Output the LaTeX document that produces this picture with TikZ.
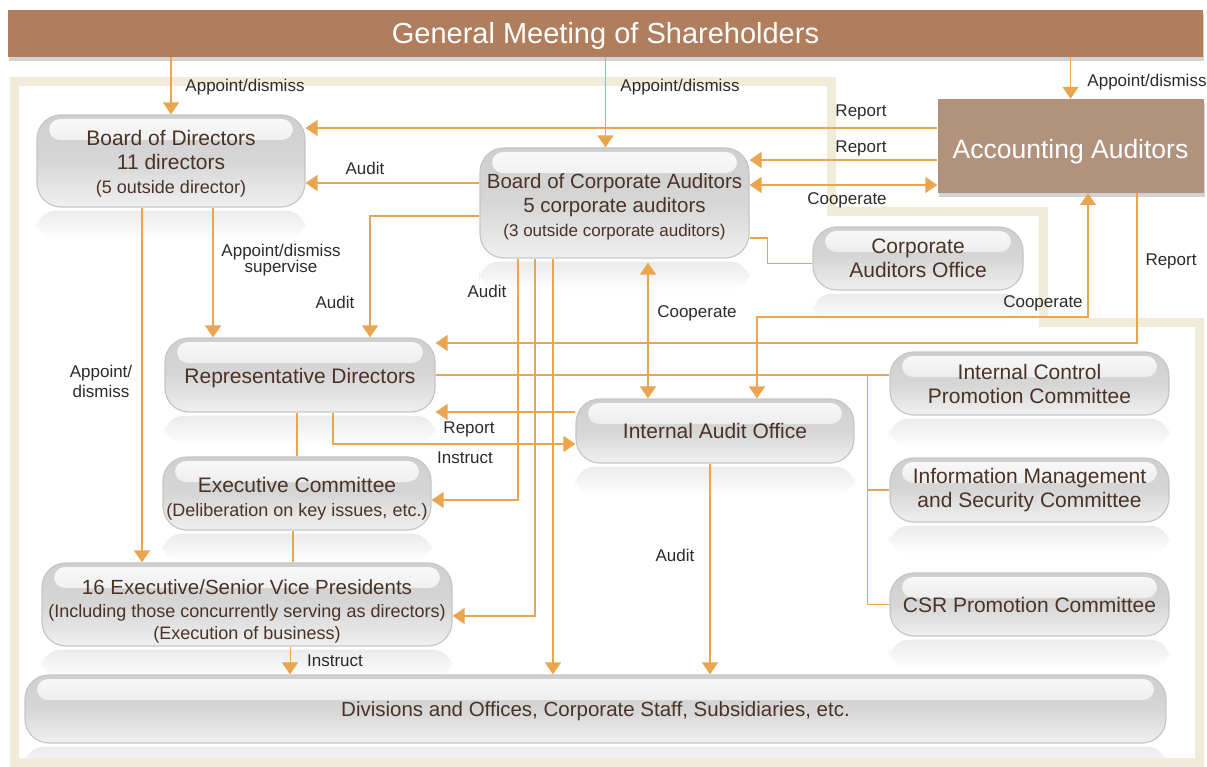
\documentclass[tikz,border=0pt]{standalone}
\usepackage{fontspec}
\setmainfont{Liberation Sans}
\usetikzlibrary{arrows.meta,shadows}
\pgfdeclarelayer{bg}
\pgfsetlayers{bg,main}
\definecolor{gmbrown}{HTML}{B07D5D}
\definecolor{accbrown}{HTML}{B1937D}
\definecolor{linkorange}{HTML}{E9A54F}
\definecolor{framebeige}{HTML}{F0ECD9}
\definecolor{boxtext}{HTML}{4A3326}
\definecolor{tagtext}{HTML}{2B2B2B}
\tikzset{
unit/.style={
	draw=gray!45, line width=1.2pt, rounded corners=24pt,
	top color=gray!38, bottom color=gray!12, middle color=gray!32,
	text=boxtext, align=center, inner sep=0pt,
	font=\fontsize{21}{24}\selectfont,
	path picture={\shade[top color=white!96!gray, bottom color=gray!30, rounded corners=11pt]
		([xshift=12pt,yshift=-4pt]path picture bounding box.north west) rectangle
		([xshift=-12pt,yshift=-25pt]path picture bounding box.north east);}},
brownbox/.style={
	fill=#1, text=white, inner sep=0pt,
	drop shadow={shadow xshift=1pt, shadow yshift=-4pt, opacity=0.35}},
textdrop/.style={execute at begin node={\rule{0pt}{#1}}},
tag/.style={text=tagtext, inner sep=0pt, align=center, font=\fontsize{17}{19}\selectfont},
link/.style={draw=linkorange, line width=1.5pt},
flow/.style={link, -{Triangle[width=16pt,length=12pt]}},
mutual/.style={link, {Triangle[width=16pt,length=12pt]}-{Triangle[width=16pt,length=12pt]}}
}
\newcommand{\subline}[1]{{\fontsize{18}{24}\selectfont #1}}
\newcommand{\lift}[1]{\rule{0pt}{#1}}

\begin{document}
\begin{tikzpicture}[x=1pt, y=-1pt]
	\useasboundingbox (0,0) rectangle (1207,767);
	% beige frame round the company
	\draw[framebeige, line width=9pt] (14,82) -- (831,82) -- (831,212) -- (1043,212)
		-- (1043,322) -- (1199,322) -- (1199,762) -- (14,762) -- cycle;

	\node[brownbox=gmbrown, textdrop=27pt, minimum width=1195pt, minimum height=47pt,
		font=\fontsize{29}{32}\selectfont] (gm) at (605.5,33.5) {General Meeting of Shareholders};
	\node[brownbox=accbrown, textdrop=31.5pt, minimum width=266pt, minimum height=94pt,
		font=\fontsize{26.5}{30}\selectfont] (acc) at (1070.5,146) {Accounting Auditors};

	\node[unit, minimum width=268pt, minimum height=92pt] (bod) at (171,161)
		{\lift{21.5pt}Board of Directors\\11 directors\\\subline{(5 outside director)}};
	\node[unit, minimum width=269pt, minimum height=110pt, font=\fontsize{20.5}{24}\selectfont] (bca) at (614.5,203)
		{\lift{23pt}Board of Corporate Auditors\\5 corporate auditors\\{\fontsize{17}{24}\selectfont (3 outside corporate auditors)}};
	\node[unit, minimum width=210pt, minimum height=63pt] (cao) at (918,258.5) {Corporate\\Auditors Office};
	\node[unit, textdrop=21.5pt, minimum width=270pt, minimum height=74pt] (rd) at (300,375) {Representative Directors};
	\node[unit, minimum width=268pt, minimum height=73pt] (ec) at (297,493.5)
		{\lift{26.5pt}Executive Committee\\\subline{(Deliberation on key issues, etc.)}};
	\node[unit, minimum width=410pt, minimum height=83pt, font=\fontsize{20.5}{22.5}\selectfont] (evp) at (247,604.5)
		{\lift{29pt}16 Executive/Senior Vice Presidents\\\subline{(Including those concurrently serving as directors)}\\\subline{(Execution of business)}};
	\node[unit, minimum width=278pt, minimum height=64pt] (iao) at (715,431) {Internal Audit Office};
	\node[unit, minimum width=279pt, minimum height=63pt] (icpc) at (1029.5,383.5) {Internal Control\\Promotion Committee};
	\node[unit, minimum width=279pt, minimum height=64pt] (imsc) at (1029.5,490) {Information Management\\and Security Committee};
	\node[unit, minimum width=279pt, minimum height=63pt] (csr) at (1029.5,604.5) {CSR Promotion Committee};
	\node[unit, textdrop=19.5pt, minimum width=1141pt, minimum height=68pt, font=\fontsize{20.5}{24}\selectfont] (div) at (595.5,709)
		{Divisions and Offices, Corporate Staff, Subsidiaries, etc.};

	% soft mirror under each box
	\begin{pgfonlayer}{bg}
	\foreach \n in {bod,bca,cao,rd,ec,evp,iao,icpc,imsc,csr,div}
		\shade[top color=gray!16, bottom color=white, rounded corners=20pt]
			([yshift=-3pt]\n.south west) rectangle ([yshift=-32pt]\n.south east);
	\end{pgfonlayer}

	% attach points
	\coordinate (bcaTop) at ([xshift=-9pt]bca.north);
	\coordinate (accR1) at ([yshift=18pt]acc.west);
	\coordinate (accR2) at ([yshift=-14pt]acc.west);
	\coordinate (accC) at ([yshift=-39pt]acc.west);
	\coordinate (bcaA1) at ([yshift=20pt]bca.west);
	\coordinate (bcaA2) at ([yshift=-13pt]bca.west);
	\coordinate (bcaC) at ([yshift=-35pt]bca.east);
	\coordinate (bcaS1) at ([xshift=-96.5pt]bca.south);
	\coordinate (bcaS2) at ([xshift=-79.5pt]bca.south);
	\coordinate (bcaS3) at ([xshift=-61.5pt]bca.south);
	\coordinate (bcaS4) at ([xshift=33.5pt,yshift=-4pt]bca.south);
	\coordinate (bodS1) at ([xshift=42pt]bod.south);
	\coordinate (bodS2) at ([xshift=-29pt]bod.south);
	\coordinate (rdIn) at ([xshift=70pt]rd.north);
	\coordinate (rdR1) at ([yshift=32pt]rd.east);
	\coordinate (rdS1) at ([xshift=33pt]rd.south);
	\coordinate (rdS2) at ([xshift=-3pt]rd.south);
	\coordinate (ecIn) at ([yshift=-6.5pt]ec.east);
	\coordinate (ecS) at ([xshift=-4pt]ec.south);
	\coordinate (evpIn) at ([yshift=-11.5pt]evp.east);
	\coordinate (evpS) at ([xshift=43pt]evp.south);
	\coordinate (accS1) at ([xshift=66.5pt]acc.south);
	\coordinate (accS2) at ([xshift=17.5pt]acc.south);
	\coordinate (iaoIn) at ([xshift=42pt]iao.north);
	\coordinate (iaoR) at ([yshift=19pt]iao.west);
	\coordinate (iaoL) at ([yshift=-13pt]iao.west);
	\coordinate (iaoS) at ([xshift=-5pt]iao.south);
	\path (rd.east -| icpc.west) ++(-22,0) coordinate (busTop);

	% connectors
	\draw[flow] (gm.south -| bod.north) -- (bod.north);
	\draw[flow] (gm.south -| bcaTop) -- (bcaTop);
	\draw[flow] (gm.south -| acc.north) -- (acc.north);
	\draw[flow] (accR1) -- (accR1 -| bod.east);
	\draw[flow] (accR2) -- (accR2 -| bca.east);
	\draw[mutual] (accC -| bca.east) -- (accC);
	\draw[flow] (bcaA1) -- (bcaA1 -| bod.east);
	\draw[flow] (bodS1) -- (bodS1 |- rd.north);
	\draw[flow] (bodS2) -- (bodS2 |- evp.north);
	\draw[flow] (bcaA2) -| (rdIn);
	\draw[flow] (bcaS1) |- (ecIn);
	\draw[flow] (bcaS2) |- (evpIn);
	\draw[flow] (bcaS3) -- (bcaS3 |- div.north);
	\draw[mutual] (bcaS4) -- (bcaS4 |- iao.north);
	\draw[link] (bcaC) -- ++(18,0) |- ([yshift=-5pt]cao.west);
	\draw[flow] (accS1) |- (rdR1);
	\draw[mutual] (accS2) -- ++(0,124) -| (iaoIn);
	\draw[link] (rd.east) -- (rd.east -| icpc.west);
	\draw[link] (busTop) |- (csr.west);
	\draw[link] (busTop |- imsc.west) -- (imsc.west);
	\draw[flow] (iaoR) -- (iaoR -| rd.east);
	\draw[flow] (rdS1) |- (iaoL);
	\draw[link] (rdS2) -- (rdS2 |- ec.north);
	\draw[link] (ecS) -- (ecS |- evp.north);
	\draw[flow, line width=1pt] (evpS) -- (evpS |- div.north);
	\draw[flow] (iaoS) -- (iaoS |- div.north);

	% labels
	\node[tag] (tAppBod) at (245,87) {Appoint/dismiss};
	\node[tag] (tAppBca) at (680,87) {Appoint/dismiss};
	\node[tag] (tAppAcc) at (1147,82) {Appoint/dismiss};
	\node[tag] (tRep1) at (861,112) {Report};
	\node[tag] (tRep2) at (861,148) {Report};
	\node[tag] (tCoop1) at (847,200) {Cooperate};
	\node[tag] (tAud1) at (365,168) {Audit};
	\node[tag, font=\fontsize{17}{16}\selectfont] (tAppRd) at (281,260) {Appoint/dismiss\\supervise};
	\node[tag] (tAud2) at (335,302) {Audit};
	\node[tag] (tAud3) at (487,291) {Audit};
	\node[tag] (tCoop2) at (697,313) {Cooperate};
	\node[tag] (tRep3) at (1171,261) {Report};
	\node[tag] (tCoop3) at (1043,303) {Cooperate};
	\node[tag, font=\fontsize{17}{20}\selectfont] (tAppEvp) at (101,381) {Appoint/\\dismiss};
	\node[tag] (tRep4) at (469,429) {Report};
	\node[tag] (tIns1) at (465,458) {Instruct};
	\node[tag] (tIns2) at (335,661) {Instruct};
	\node[tag] (tAud4) at (675,555) {Audit};
\end{tikzpicture}
\end{document}
